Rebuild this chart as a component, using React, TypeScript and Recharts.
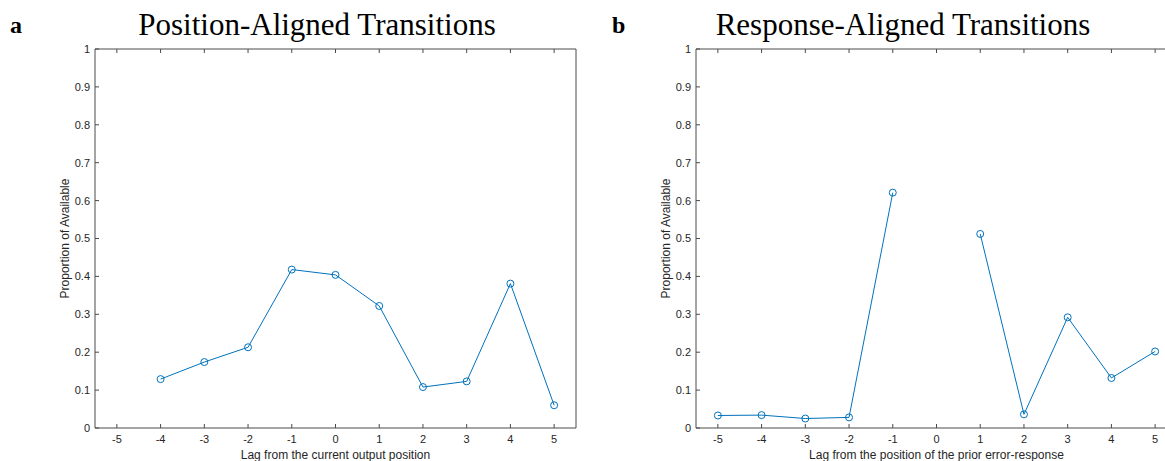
import React from 'react';
import { LineChart, Line, XAxis, YAxis } from 'recharts';

const lags = [-5, -4, -3, -2, -1, 0, 1, 2, 3, 4, 5];
const positionAligned: (number | null)[] = [null, 0.129, 0.174, 0.213, 0.418, 0.404, 0.322, 0.108, 0.123, 0.381, 0.06];
const responseAligned: (number | null)[] = [0.033, 0.034, 0.025, 0.028, 0.621, null, 0.512, 0.036, 0.292, 0.132, 0.202];
const yTicks = [0, 0.1, 0.2, 0.3, 0.4, 0.5, 0.6, 0.7, 0.8, 0.9, 1];
const panelLetters = ['a', 'b'];
const panelTitles = ['Position-Aligned Transitions', 'Response-Aligned Transitions'];
const xLabels = ['Lag from the current output position', 'Lag from the position of the prior error-response'];
const yLabel = 'Proportion of Available';

const AXIS = '#4a4a4a';
const TEXT = '#262626';
const LINE = '#0072BD';
const SANS = '"Liberation Sans", Arial, sans-serif';
const SERIF = '"Liberation Serif", serif';

function Panel({ values, xLabel }: { values: (number | null)[]; xLabel: string }) {
  const data = lags.map((lag, i) => ({ lag, value: values[i] }));
  const tickStyle = { fontSize: 11, fill: TEXT, fontFamily: SANS };
  return (
    <LineChart width={600} height={482} data={data} margin={{ top: 48, right: 23, bottom: 0, left: 35 }}>
      <XAxis
        type="number"
        dataKey="lag"
        domain={[-5.5, 5.5]}
        ticks={lags}
        interval={0}
        height={54}
        tickSize={-4}
        tickMargin={11}
        stroke={AXIS}
        tick={tickStyle}
        label={{ value: xLabel, position: 'center', fontSize: 12, fill: TEXT, fontFamily: SANS }}
      />
      <XAxis
        xAxisId="top"
        orientation="top"
        type="number"
        dataKey="lag"
        domain={[-5.5, 5.5]}
        ticks={lags}
        interval={0}
        height={1}
        tickSize={-4}
        stroke={AXIS}
        tick={{ fontSize: 1, fill: 'none' }}
        tickFormatter={() => ' '}
      />
      <YAxis
        type="number"
        domain={[0, 1]}
        ticks={yTicks}
        interval={0}
        width={60}
        tickSize={-4}
        tickMargin={9}
        stroke={AXIS}
        tick={tickStyle}
        tickFormatter={(v: number) => String(v)}
        label={{ value: yLabel, angle: -90, position: 'center', fontSize: 12, fill: TEXT, fontFamily: SANS }}
      />
      <YAxis
        yAxisId="right"
        orientation="right"
        type="number"
        domain={[0, 1]}
        ticks={yTicks}
        interval={0}
        width={1}
        tickSize={-4}
        stroke={AXIS}
        tick={{ fontSize: 1, fill: 'none' }}
        tickFormatter={() => ' '}
      />
      <Line
        type="linear"
        dataKey="value"
        stroke={LINE}
        strokeWidth={1}
        dot={{ r: 3.5, fill: 'none', stroke: LINE, strokeWidth: 1 }}
        activeDot={false}
        connectNulls={false}
        isAnimationActive={false}
      />
    </LineChart>
  );
}

export default function App() {
  return (
    <div style={{ position: 'absolute', left: 0, top: 0, width: 1165, height: 461, overflow: 'hidden', background: '#fff', fontFamily: SANS }}>
      <div style={{ position: 'absolute', left: 0, top: 0 }}>
        <Panel values={positionAligned} xLabel={xLabels[0]} />
      </div>
      <div style={{ position: 'absolute', left: 601, top: 0 }}>
        <Panel values={responseAligned} xLabel={xLabels[1]} />
      </div>
      <svg width={1165} height={461} style={{ position: 'absolute', left: 0, top: 0, pointerEvents: 'none' }}>
        <text x={10} y={33} fontFamily={SERIF} fontWeight="bold" fontSize={24} fill="#000">{panelLetters[0]}</text>
        <text x={612} y={33} fontFamily={SERIF} fontWeight="bold" fontSize={24} fill="#000">{panelLetters[1]}</text>
        <text x={317} y={35} textAnchor="middle" fontFamily={SERIF} fontSize={31} fill="#000">{panelTitles[0]}</text>
        <text x={903} y={35} textAnchor="middle" fontFamily={SERIF} fontSize={31} fill="#000">{panelTitles[1]}</text>
      </svg>
    </div>
  );
}
